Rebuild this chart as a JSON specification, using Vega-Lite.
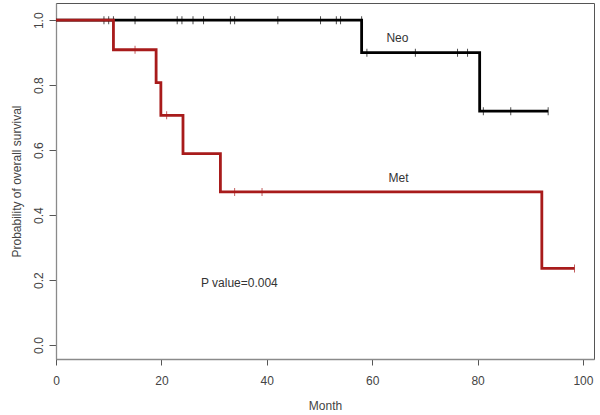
{
  "$schema": "https://vega.github.io/schema/vega-lite/v6.json",
  "width": 538,
  "height": 356,
  "autosize": "none",
  "padding": {"left": 56, "top": 3, "right": 6, "bottom": 56},
  "background": "white",
  "config": {
    "view": {"stroke": "#555555", "strokeWidth": 1},
    "font": "Liberation Sans",
    "axis": {"grid": false, "domainColor": "#8a8a8a", "domainWidth": 1.3, "tickColor": "#555555", "labelColor": "#444444", "titleColor": "#444444", "labelFontSize": 12, "titleFontSize": 12, "titleFontWeight": "normal", "labelFont": "Liberation Sans", "titleFont": "Liberation Sans", "labelFlush": false}
  },
  "datasets": {
    "neo_curve": [
      {"month": 0, "surv": 1.0},
      {"month": 58.0, "surv": 0.9},
      {"month": 80.4, "surv": 0.72},
      {"month": 93.4, "surv": 0.72}
    ],
    "met_curve": [
      {"month": 0, "surv": 1.0},
      {"month": 10.9, "surv": 0.9091},
      {"month": 19.0, "surv": 0.8081},
      {"month": 19.9, "surv": 0.7071},
      {"month": 24.1, "surv": 0.5892},
      {"month": 31.2, "surv": 0.4714},
      {"month": 92.2, "surv": 0.2357},
      {"month": 98.4, "surv": 0.2357}
    ],
    "neo_cens": [
      {"month": 9.1, "surv": 1.0}, {"month": 10.0, "surv": 1.0}, {"month": 10.9, "surv": 1.0},
      {"month": 15.0, "surv": 1.0}, {"month": 23.0, "surv": 1.0}, {"month": 23.9, "surv": 1.0},
      {"month": 26.0, "surv": 1.0}, {"month": 28.0, "surv": 1.0}, {"month": 33.1, "surv": 1.0},
      {"month": 33.9, "surv": 1.0}, {"month": 42.1, "surv": 1.0}, {"month": 50.2, "surv": 1.0},
      {"month": 53.2, "surv": 1.0}, {"month": 54.0, "surv": 1.0}, {"month": 58.0, "surv": 1.0},
      {"month": 59.0, "surv": 0.9}, {"month": 68.2, "surv": 0.9}, {"month": 76.2, "surv": 0.9},
      {"month": 78.1, "surv": 0.9}, {"month": 81.1, "surv": 0.72}, {"month": 86.3, "surv": 0.72},
      {"month": 93.4, "surv": 0.72}
    ],
    "met_cens": [
      {"month": 15.0, "surv": 0.9091},
      {"month": 21.0, "surv": 0.7071},
      {"month": 33.9, "surv": 0.4714},
      {"month": 39.1, "surv": 0.4714},
      {"month": 98.4, "surv": 0.2357}
    ],
    "notes": [
      {"label": "Neo", "month": 64.8, "surv": 0.944},
      {"label": "Met", "month": 65.0, "surv": 0.515},
      {"label": "P value=0.004", "month": 34.8, "surv": 0.192}
    ]
  },
  "encoding": {
    "x": {
      "field": "month", "type": "quantitative",
      "scale": {"domain": [0, 102.1], "nice": false, "zero": false},
      "axis": {"values": [0, 20, 40, 60, 80, 100], "title": "Month", "tickSize": 6, "labelPadding": 15, "labelBaseline": "middle", "titleX": 269, "titleY": 46, "titleBaseline": "middle", "titleAlign": "center"}
    },
    "y": {
      "field": "surv", "type": "quantitative",
      "scale": {"domain": [-0.043, 1.053], "nice": false, "zero": false},
      "axis": {"values": [0, 0.2, 0.4, 0.6, 0.8, 1.0], "format": ".1f", "title": "Probability of overall survival", "tickSize": 7, "labelAngle": 270, "labelPadding": 4, "titleX": -40, "titleY": 178, "titleAngle": 270, "titleBaseline": "middle", "titleAlign": "center"}
    }
  },
  "layer": [
    {"data": {"name": "neo_curve"}, "mark": {"type": "line", "interpolate": "step-after", "color": "#000000", "strokeWidth": 2.8}},
    {"data": {"name": "neo_cens"}, "mark": {"type": "tick", "orient": "vertical", "size": 8, "thickness": 1, "color": "#000000"}},
    {"data": {"name": "met_curve"}, "mark": {"type": "line", "interpolate": "step-after", "color": "#a81b1b", "strokeWidth": 2.8}},
    {"data": {"name": "met_cens"}, "mark": {"type": "tick", "orient": "vertical", "size": 8, "thickness": 1, "color": "#a81b1b"}},
    {"data": {"name": "notes"}, "mark": {"type": "text", "align": "center", "baseline": "middle", "fontSize": 12, "color": "#333333", "font": "Liberation Sans"}, "encoding": {"text": {"field": "label"}}}
  ]
}
